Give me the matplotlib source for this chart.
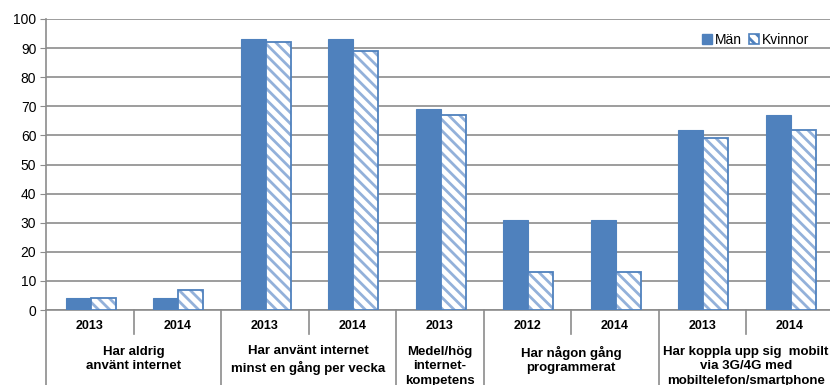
import matplotlib
matplotlib.use("Agg")
import matplotlib.pyplot as plt
from matplotlib.patches import Patch
import numpy as np

plt.rcParams['font.family'] = ['Liberation Sans', 'DejaVu Sans']

years = ["2013", "2014", "2013", "2014", "2013", "2012", "2014", "2013", "2014"]
men = [4, 4, 93, 93, 69, 31, 31, 62, 67]
women = [4, 7, 92, 89, 67, 13, 13, 59, 62]
groups = [
    "Har aldrig\nanvänt internet",
    "Har använt internet\nminst en gång per vecka",
    "Medel/hög\ninternet-\nkompetens",
    "Har någon gång\nprogrammerat",
    "Har koppla upp sig  mobilt\nvia 3G/4G med\nmobiltelefon/smartphone",
]
group_sizes = [2, 2, 1, 2, 2]
series_names = ["Män", "Kvinnor"]

BLUE = "#4f81bd"
HATCH = "#93b1da"
GRID = "#8c8c8c"

W, H, DPI = 830, 385, 100
fig = plt.figure(figsize=(W / DPI, H / DPI), dpi=DPI)
left_px, top_px, bottom_px = 46, 19, 310
cat_px = 87.5
n = len(years)
ax = fig.add_axes([left_px / W, 1 - bottom_px / H,
                   n * cat_px / W, (bottom_px - top_px) / H])

x = np.arange(n)
bw = 0.286
off = 0.13
ax.bar(x - off, men, bw, color=BLUE, edgecolor=BLUE, linewidth=0.8, zorder=3)
plt.rcParams['hatch.linewidth'] = 2.0
ax.bar(x - off + bw, women, bw, color="white", edgecolor=HATCH, hatch="\\\\\\",
       linewidth=0, zorder=3)
ax.bar(x - off + bw, women, bw, color="none", edgecolor=BLUE, linewidth=1.3, zorder=4)

ax.set_xlim(-0.5, n - 0.5)
ax.set_ylim(0, 100)
ax.set_yticks(np.arange(0, 101, 10))
ax.yaxis.grid(True, color=GRID, linewidth=1.2, zorder=0)
ax.set_axisbelow(True)
ax.tick_params(axis='y', length=4, color=GRID, labelsize=10, pad=3)
ax.tick_params(axis='x', length=0, labelbottom=False)
for s in ["top", "right"]:
    ax.spines[s].set_visible(False)
ax.spines["left"].set_color(GRID)
ax.spines["left"].set_linewidth(1.2)
ax.spines["bottom"].set_color(GRID)
ax.spines["bottom"].set_linewidth(1.2)

# multi-level category axis below the plot
tr = ax.get_xaxis_transform()
ah = bottom_px - top_px
def fy(py):
    return (bottom_px - py) / ah

for i, yr in enumerate(years):
    ax.text(i, fy(326), yr, transform=tr, ha="center", va="center",
            fontsize=9, fontweight="bold", clip_on=False)

ax.plot([-0.5, -0.5], [0, fy(400)], transform=tr, color=GRID, lw=1.2, clip_on=False)
start = 0
for g, size in zip(groups, group_sizes):
    center = start + (size - 1) / 2
    ax.text(center, fy(345.5), g, transform=tr, ha="center", va="top",
            fontsize=9.5, fontweight="bold", linespacing=1.28, clip_on=False)
    for k in range(1, size):
        xs = start + k - 0.5
        ax.plot([xs, xs], [0, fy(334)], transform=tr, color=GRID, lw=1.2, clip_on=False)
    end = start + size - 0.5
    ax.plot([end, end], [0, fy(400)], transform=tr, color=GRID, lw=1.2, clip_on=False)
    start += size

handles = [Patch(facecolor=BLUE, edgecolor=BLUE),
           Patch(facecolor="white", edgecolor=BLUE, hatch="\\\\\\", linewidth=1.2)]
fig.legend(handles, series_names, loc="center left",
           bbox_to_anchor=(702 / W, 1 - 40 / H), ncol=2, frameon=False,
           fontsize=10, handlelength=0.7, handleheight=0.7,
           handletextpad=0.25, columnspacing=0.5, borderpad=0, borderaxespad=0)

fig.savefig("out.png", dpi=DPI)
